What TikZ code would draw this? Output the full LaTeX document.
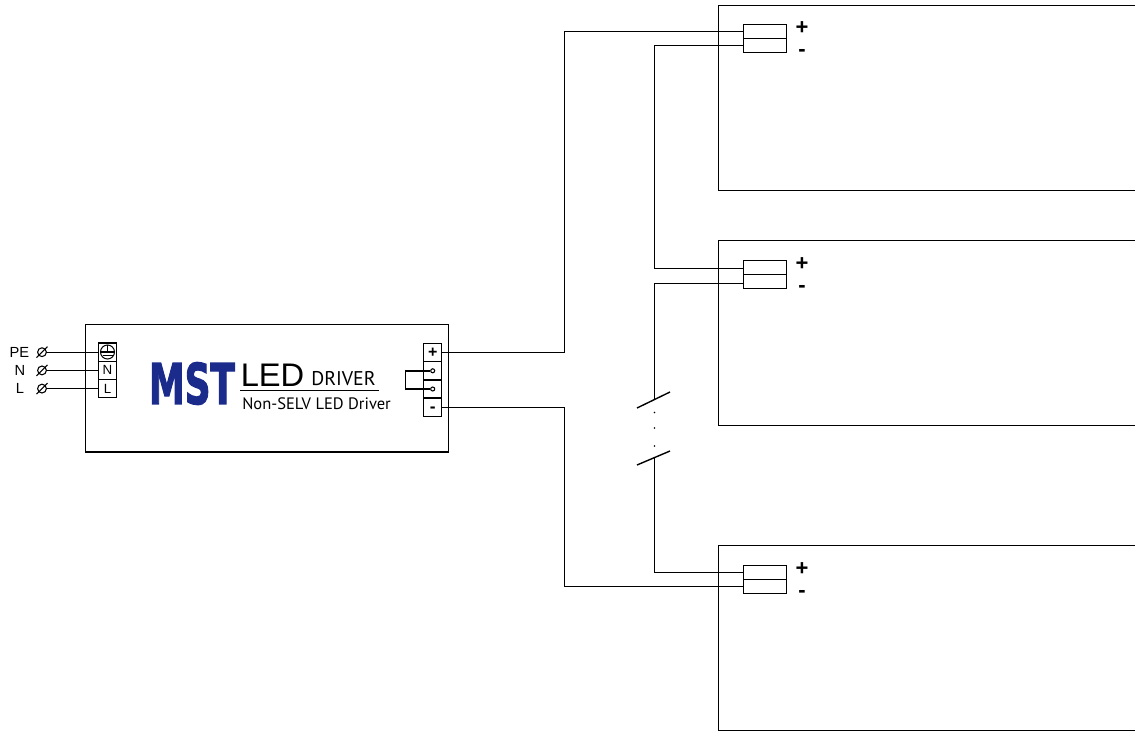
\documentclass[tikz,border=0pt]{standalone}
\usepackage{fontspec}
\setmainfont{Liberation Sans}
\newfontfamily\labelfont{PT Sans}
\newfontfamily\logofont[BoldFeatures={FakeBold=2.5}]{DejaVu Sans}
\usepackage{xcolor}
\definecolor{mstblue}{HTML}{1A2B8C}
\tikzset{
  wire/.style = {line width=1.05pt, black},
  termbox/.style = {draw, line width=1.05pt, black, text=black, inner sep=0pt, minimum width=13.5pt, minimum height=13.7pt, font=\fontsize{10}{10}\selectfont},
  conbox/.style = {draw, line width=1.05pt, black, inner sep=0pt, minimum width=32.25pt, minimum height=10.5pt},
  screw/.style = {circle, draw, line width=0.8pt, black, inner sep=0pt, minimum size=6.6pt},
  pin/.style = {circle, draw, line width=0.8pt, black, inner sep=0pt, minimum size=3pt},
  polarity/.style = {inner sep=0pt, font=\fontsize{16.5}{16.5}\selectfont\bfseries},
  mains/.style = {inner sep=0pt, font=\fontsize{11}{11}\selectfont}
}
\begin{document}
\begin{tikzpicture}[x=0.75pt,y=-0.75pt]
\useasboundingbox (0,0) rectangle (1135,731);

% Driver housing
\node [draw, wire, inner sep=0pt, minimum width=272.25pt, minimum height=95.6pt] (driver) at (267,388.2) {};

% Mains terminals
\node [termbox] (tpe) at (107.5,352.2) {};
\node [termbox] (tn) at (107.5,370.4) {N};
\node [termbox] (tl) at (107.5,388.6) {L};

% Earth symbol
\draw [wire, line width=0.8pt] (107.5,352) circle (7);
\draw [wire, line width=0.8pt] (107.5,345) -- (107.5,352);
\draw [wire, line width=0.8pt] (100.5,352) -- (114.5,352);
\draw [wire, line width=0.8pt] (102.5,355.5) -- (112.5,355.5);

% Mains screws and labels
\node [screw] (spe) at (42,352.2) {};
\node [screw] (sn) at (42,370.4) {};
\node [screw] (sl) at (42,388.6) {};
\draw [wire, line width=0.8pt] (36.5,357.7) -- (47.5,346.7);
\draw [wire, line width=0.8pt] (36.5,375.9) -- (47.5,364.9);
\draw [wire, line width=0.8pt] (36.5,394.1) -- (47.5,383.1);
\draw [wire] (spe) -- (tpe);
\draw [wire] (sn) -- (tn);
\draw [wire] (sl) -- (tl);
\node [mains, anchor=east] at (29.5,352) {PE};
\node [mains] at (20,370.4) {N};
\node [mains] at (20,388.6) {L};

% Logo and driver text
\node [inner sep=0pt, text=mstblue] at (192,383.5) {\scalebox{0.64}[1]{\logofont\fontsize{42}{42}\selectfont\bfseries MST}};
\node [inner sep=0pt, anchor=base west] at (240.5,386) {\fontsize{24.5}{25}\selectfont LED};
\node [inner sep=0pt, anchor=base west] at (311,385.5) {\labelfont\fontsize{14.9}{16}\selectfont DRIVER};
\node [inner sep=0pt, anchor=base west] at (242,409.5) {\labelfont\fontsize{12.4}{14}\selectfont Non-SELV LED Driver};
\draw [wire] (240,390.5) -- (379,390.5);

% Output terminals
\node [termbox, font=\fontsize{12}{12}\selectfont\bfseries] (oplus) at (432.7,352.5) {+};
\node [termbox] (oja) at (432.7,370.8) {};
\node [termbox] (ojb) at (432.7,389) {};
\node [termbox] (ominus) at (432.7,407.2) {};
\node [inner sep=0pt, font=\fontsize{13}{13}\selectfont\bfseries] (minustxt) at (432.7,409.5) {-};
\node [pin] (pa) at (432.7,370.8) {};
\node [pin] (pb) at (432.7,389) {};
\draw [wire] (pa) -- (405.7,370.8) -- (405.7,389) -- (pb);

% Panels
\draw [wire] (1135,5.5) -- (718.5,5.5) -- (718.5,190.5) -- (1135,190.5);
\draw [wire] (1135,240.5) -- (718.5,240.5) -- (718.5,425.5) -- (1135,425.5);
\draw [wire] (1135,545.5) -- (718.5,545.5) -- (718.5,730.5) -- (1135,730.5);

% Panel connectors
\node [conbox] (aplus) at (765,31.5) {};
\node [conbox] (aminus) at (765,45.5) {};
\node [conbox] (bplus) at (765,267.5) {};
\node [conbox] (bminus) at (765,281.5) {};
\node [conbox] (cplus) at (765,572.5) {};
\node [conbox] (cminus) at (765,586.5) {};
\coordinate (bin) at ([yshift=-0.75pt]bplus.west);
\coordinate (bout) at ([yshift=-1.5pt]bminus.west);

% Polarity marks
\node [polarity] at (802,28.5) {+};
\node [polarity] at (802,53) {-};
\node [polarity] at (802,264.5) {+};
\node [polarity] at (802,289) {-};
\node [polarity] at (802,569.5) {+};
\node [polarity] at (802,594) {-};

% Break marks on the chain
\coordinate (breakb) at (654.5,400);
\coordinate (breakc) at (654.5,458);
\draw [wire] (637,408) -- (670,392);
\draw [wire] (637,465) -- (670,451);
\fill (654.5,412.5) circle (0.9);
\fill (654.5,428) circle (0.9);
\fill (654.5,446) circle (0.9);

% Wiring
\draw [wire] (oplus.east) -- ++(122,0) |- (aplus.west);
\draw [wire] (ominus.east) -- ++(122,0) |- (cminus.west);
\draw [wire] (aminus.west) -- ++(-88.3,0) |- (bin);
\draw [wire] (bout) -| (breakb);
\draw [wire] (cplus.west) -| (breakc);

\end{tikzpicture}
\end{document}
